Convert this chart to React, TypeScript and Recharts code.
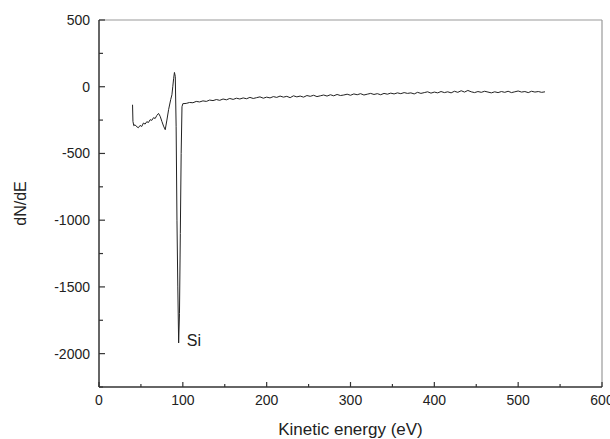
import React from 'react';
import { LineChart, Line, XAxis, YAxis, ReferenceLine, ReferenceDot, Label } from 'recharts';

const energy: number[] = [
  40, 40.5, 41.5, 43, 45, 47, 49, 51, 53, 55, 57, 59, 61, 63, 65, 67, 69, 71, 73, 75, 77, 79, 81, 83, 85.5, 87, 88, 89, 90, 91,
  92, 93, 94, 95, 96, 97, 98, 99, 100,
  104, 108, 112, 116, 120, 124, 128, 132, 136, 140, 144, 148, 152, 156, 160, 164, 168, 172, 176, 180,
  184, 188, 192, 196, 200, 204, 208, 212, 216, 220, 224, 228, 232, 236, 240, 244, 248, 252, 256, 260,
  264, 268, 272, 276, 280, 284, 288, 292, 296, 300, 304, 308, 312, 316, 320, 324, 328, 332, 336, 340,
  344, 348, 352, 356, 360, 364, 368, 372, 376, 380, 384, 388, 392, 396, 400, 404, 408, 412, 416, 420,
  424, 428, 432, 436, 440, 444, 448, 452, 456, 460, 464, 468, 472, 476, 480, 484, 488, 492, 496, 500,
  504, 508, 512, 516, 520, 524, 528, 532,
];

const dNdE: number[] = [
  -135, -260, -292, -285, -300, -307, -290, -298, -272, -280, -262, -268, -247, -252, -232, -238, -215, -200, -222, -260, -295, -322, -250, -172, -97, -60, 0, 60, 107, 77,
  -300, -1000, -1500, -1920, -1700, -1100, -500, -150, -127,
  -125, -118, -120, -110, -114, -106, -110, -100, -104, -96, -102, -92, -98, -88, -95, -86, -92, -84, -90, -80,
  -88, -82, -76, -86, -78, -84, -74, -80, -70, -78, -72, -82, -68, -76, -70, -78, -66, -72, -64, -74,
  -68, -62, -70, -60, -68, -58, -66, -62, -56, -64, -54, -60, -52, -62, -56, -50, -58, -52, -60, -50,
  -56, -48, -54, -46, -52, -44, -50, -46, -54, -42, -50, -44, -38, -48, -40, -46, -36, -44, -38, -46,
  -34, -42, -30, -40, -28, -38, -44, -36, -42, -34, -40, -46, -38, -44, -36, -42, -34, -44, -38, -32,
  -40, -36, -44, -34, -40, -36, -42, -38,
];

const xTicks: number[] = [0, 50, 100, 150, 200, 250, 300, 350, 400, 450, 500, 550, 600];
const yTicks: number[] = [500, 250, 0, -250, -500, -750, -1000, -1250, -1500, -1750, -2000, -2250];

const data = energy.map((e, i) => ({ ev: e, v: dNdE[i] }));

const FONT = '"Liberation Sans", Arial, sans-serif';
const X_MARGIN = 8;
const Y_MARGIN = 9;

const XTick = (props: any) => {
  const { x, y, payload } = props;
  const axisY = y - X_MARGIN;
  const major = payload.value % 100 === 0;
  return (
    <g>
      <line x1={x} x2={x} y1={axisY} y2={axisY - (major ? 5 : 3)} stroke="#333" strokeWidth={1.2} />
      {major && (
        <text x={x} y={y} dy="0.71em" textAnchor="middle" fontSize={14} fontFamily={FONT} fill="#222">
          {payload.value}
        </text>
      )}
    </g>
  );
};

const YTick = (props: any) => {
  const { x, y, payload } = props;
  const axisX = x + Y_MARGIN;
  const major = payload.value % 500 === 0;
  return (
    <g>
      <line x1={axisX} x2={axisX + (major ? 6 : 4)} y1={y} y2={y} stroke="#333" strokeWidth={1.2} />
      {major && (
        <text x={x} y={y} dy="0.355em" textAnchor="end" fontSize={14} fontFamily={FONT} fill="#222">
          {payload.value}
        </text>
      )}
    </g>
  );
};

export default function App() {
  return (
    <div style={{ position: 'absolute', left: 0, top: 0, background: '#fff' }}>
      <LineChart width={610} height={439} data={data} margin={{ top: 20, right: 8, bottom: 0, left: 0 }}>
        <XAxis
          dataKey="ev"
          type="number"
          domain={[0, 600]}
          ticks={xTicks}
          interval={0}
          tickLine={false}
          tickSize={0}
          tickMargin={X_MARGIN}
          tick={<XTick />}
          height={52}
          axisLine={{ stroke: '#333', strokeWidth: 1.5 }}
        >
          <Label
            value="Kinetic energy (eV)"
            position="insideBottom"
            offset={4}
            style={{ fontSize: 17, fontFamily: FONT, fill: '#222' }}
          />
        </XAxis>
        <YAxis
          type="number"
          domain={[-2250, 500]}
          ticks={yTicks}
          interval={0}
          tickLine={false}
          tickSize={0}
          tickMargin={Y_MARGIN}
          tick={<YTick />}
          width={99}
          axisLine={{ stroke: '#333', strokeWidth: 1.5 }}
        >
          <Label
            value="dN/dE"
            angle={-90}
            position="insideLeft"
            offset={20}
            style={{ fontSize: 16, fontFamily: FONT, fill: '#222', textAnchor: 'middle' }}
          />
        </YAxis>
        <ReferenceLine y={500} stroke="#999" strokeWidth={1.2} />
        <ReferenceLine x={600} stroke="#999" strokeWidth={1.2} />
        <Line
          type="linear"
          dataKey="v"
          stroke="#222"
          strokeWidth={1}
          dot={false}
          isAnimationActive={false}
        />
        <ReferenceDot
          x={100}
          y={-1900}
          r={0}
          stroke="none"
          fill="none"
          label={{ value: 'Si', position: 'right', offset: 4, fontSize: 16, fontFamily: FONT, fill: '#222' }}
        />
      </LineChart>
    </div>
  );
}
